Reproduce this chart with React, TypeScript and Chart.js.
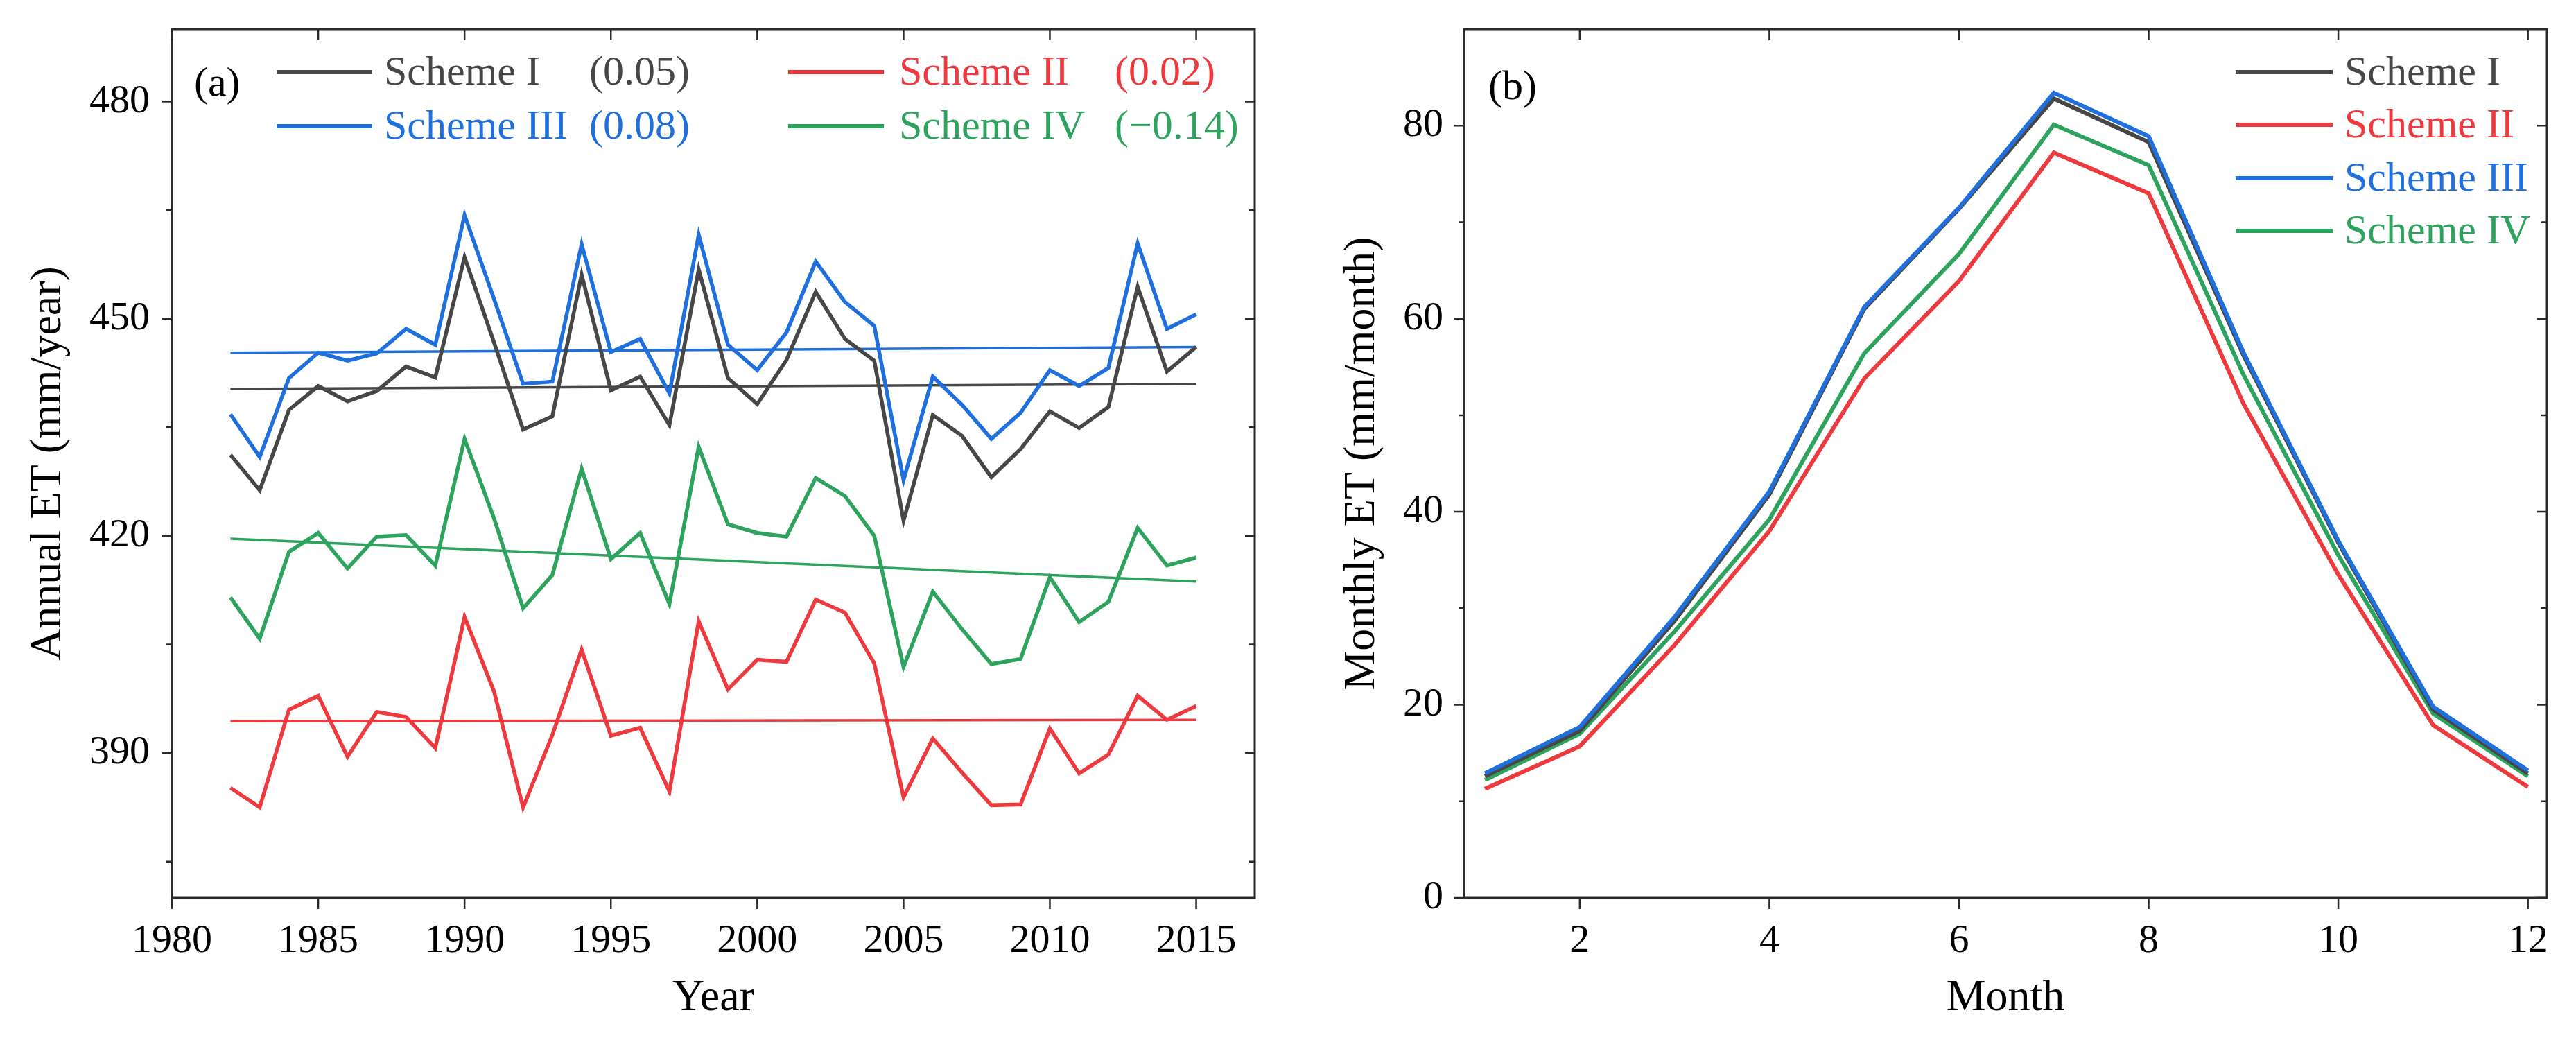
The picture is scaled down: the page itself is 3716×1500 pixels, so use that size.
import React, { useEffect, useRef } from "react";
import { Chart, registerables } from "chart.js";

Chart.register(...registerables);

// ---------------- DATA ----------------
const years = [
  1982, 1983, 1984, 1985, 1986, 1987, 1988, 1989, 1990, 1991, 1992, 1993, 1994, 1995, 1996, 1997, 1998,
  1999, 2000, 2001, 2002, 2003, 2004, 2005, 2006, 2007, 2008, 2009, 2010, 2011, 2012, 2013, 2014, 2015,
];
const annualSchemeI = [
  431.2, 426.3, 437.4, 440.7, 438.6, 440.0, 443.4, 441.9, 458.5, 446.8, 434.7, 436.5, 456.1, 440.1, 442.0,
  435.3, 456.8, 441.8, 438.2, 444.3, 453.7, 447.2, 444.2, 422.1, 436.7, 433.8, 428.1, 432.0, 437.2, 434.9,
  437.8, 454.4, 442.7, 446.1,
];
const annualSchemeII = [
  385.2, 382.5, 396.0, 397.9, 389.5, 395.7, 395.0, 390.7, 408.8, 398.6, 382.5, 392.5, 404.3, 392.4, 393.5,
  384.7, 408.2, 398.8, 402.9, 402.6, 411.2, 409.4, 402.4, 383.9, 392.0, 387.3, 382.8, 382.9, 393.4, 387.2,
  389.8, 397.9, 394.6, 396.5,
];
const annualSchemeIII = [
  436.8, 430.9, 441.8, 445.3, 444.2, 445.2, 448.6, 446.4, 464.3, 452.8, 441.0, 441.3, 460.3, 445.4, 447.2,
  439.7, 461.6, 446.4, 442.9, 448.1, 457.9, 452.3, 449.0, 427.7, 442.0, 438.1, 433.4, 437.0, 442.9, 440.7,
  443.2, 460.4, 448.6, 450.6,
];
const annualSchemeIV = [
  411.5, 405.8, 417.8, 420.4, 415.5, 419.9, 420.1, 415.9, 433.4, 422.5, 410.0, 414.6, 429.3, 416.8, 420.4,
  410.6, 432.3, 421.6, 420.4, 419.9, 428.0, 425.5, 420.0, 401.9, 412.3, 407.1, 402.3, 403.0, 414.3, 408.1,
  410.9, 421.1, 415.9, 417.0,
];
// linear trend lines (start year, end year) and their values
const trendYears = [1982, 2015];
const trendSchemeI = [440.3, 441.0];
const trendSchemeII = [394.4, 394.6];
const trendSchemeIII = [445.3, 446.1];
const trendSchemeIV = [419.6, 413.7];

const schemeNames = ["Scheme I", "Scheme II", "Scheme III", "Scheme IV"];
const schemeSlopes = ["(0.05)", "(0.02)", "(0.08)", "(\u22120.14)"];

const months = [1, 2, 3, 4, 5, 6, 7, 8, 9, 10, 11, 12];
const monthlySchemeI = [12.6, 17.3, 28.7, 41.8, 61.0, 71.4, 82.8, 78.3, 56.2, 36.8, 19.5, 12.9];
const monthlySchemeII = [11.3, 15.7, 26.2, 38.0, 53.8, 63.9, 77.2, 73.0, 51.2, 33.5, 17.9, 11.5];
const monthlySchemeIII = [12.9, 17.7, 29.1, 42.1, 61.2, 71.5, 83.4, 78.9, 56.5, 37.0, 19.8, 13.2];
const monthlySchemeIV = [12.2, 17.0, 27.6, 39.2, 56.4, 66.7, 80.1, 75.9, 54.2, 35.5, 19.1, 12.6];

const yearTicks = [1980, 1985, 1990, 1995, 2000, 2005, 2010, 2015];
const annualTicks = [390, 420, 450, 480];
const annualMinorTicks = [375, 405, 435, 465];
const monthTicks = [2, 4, 6, 8, 10, 12];
const monthlyTicks = [0, 20, 40, 60, 80];
const monthlyMinorTicks = [10, 30, 50, 70];

// ---------------- STYLE ----------------
const COLORS = ["#474747", "#ec3a3e", "#1f6fdc", "#2ea35e"];
const FONT = "'Liberation Serif', 'Times New Roman', serif";
const AXIS = "#2a2a2a";
const W = 1858;
const H = 1500;

Chart.defaults.font.family = FONT;

type FrameCfg = {
  xTicks: number[];
  yTicks: number[];
  yMinor: number[];
  panelLabel: string;
  labelX: number;
  labelY: number;
  legend: (ctx: CanvasRenderingContext2D) => void;
};

function makeFramePlugin(cfg: FrameCfg) {
  return {
    id: "frameTicks",
    afterDraw(chart: any) {
      const { ctx, chartArea } = chart;
      const { left, right, top, bottom } = chartArea;
      const xs = chart.scales.x;
      const ys = chart.scales.y;
      ctx.save();
      ctx.strokeStyle = AXIS;
      ctx.lineWidth = 3;
      ctx.strokeRect(left, top, right - left, bottom - top);
      ctx.lineWidth = 2.5;
      ctx.beginPath();
      for (const v of cfg.xTicks) {
        const px = xs.getPixelForValue(v);
        ctx.moveTo(px, bottom);
        ctx.lineTo(px, bottom + 16);
        ctx.moveTo(px, top);
        ctx.lineTo(px, top + 16);
      }
      for (const v of cfg.yTicks) {
        const py = ys.getPixelForValue(v);
        ctx.moveTo(left - 14, py);
        ctx.lineTo(left, py);
        ctx.moveTo(right, py);
        ctx.lineTo(right - 14, py);
      }
      for (const v of cfg.yMinor) {
        const py = ys.getPixelForValue(v);
        ctx.moveTo(left - 8, py);
        ctx.lineTo(left, py);
        ctx.moveTo(right, py);
        ctx.lineTo(right - 8, py);
      }
      ctx.stroke();

      ctx.fillStyle = "#000";
      ctx.font = `60px ${FONT}`;
      ctx.textBaseline = "middle";
      ctx.textAlign = "left";
      ctx.fillText(cfg.panelLabel, cfg.labelX, cfg.labelY);
      cfg.legend(ctx);
      ctx.restore();
    },
  };
}

function legendA(ctx: CanvasRenderingContext2D) {
  const lineX = [399, 1137];
  const nameX = [554, 1297];
  const slopeX = [850, 1608];
  const rowY = [104, 182];
  const pos = [
    [0, 0],
    [1, 0],
    [0, 1],
    [1, 1],
  ];
  ctx.font = `60px ${FONT}`;
  ctx.textBaseline = "middle";
  schemeNames.forEach((name, i) => {
    const [c, r] = pos[i];
    const y = rowY[r];
    ctx.strokeStyle = COLORS[i];
    ctx.lineWidth = 6;
    ctx.beginPath();
    ctx.moveTo(lineX[c], y);
    ctx.lineTo(lineX[c] + 138, y);
    ctx.stroke();
    ctx.fillStyle = COLORS[i];
    ctx.fillText(name, nameX[c], y + 2);
    ctx.fillText(schemeSlopes[i], slopeX[c], y + 2);
  });
}

function legendB(ctx: CanvasRenderingContext2D) {
  const lineX = 1367;
  const nameX = 1524;
  const rowY = [104, 180, 257, 333];
  ctx.font = `60px ${FONT}`;
  ctx.textBaseline = "middle";
  schemeNames.forEach((name, i) => {
    const y = rowY[i];
    ctx.strokeStyle = COLORS[i];
    ctx.lineWidth = 6;
    ctx.beginPath();
    ctx.moveTo(lineX, y);
    ctx.lineTo(lineX + 140, y);
    ctx.stroke();
    ctx.fillStyle = COLORS[i];
    ctx.fillText(name, nameX, y + 2);
  });
}

const toXY = (xs: number[], ys: number[]) => xs.map((x, i) => ({ x, y: ys[i] }));

function axisOptions(opts: {
  min: number;
  max: number;
  ticks: number[];
  title: string;
  isY: boolean;
  size: number;
  titlePad: any;
  tickPad: number;
}) {
  return {
    type: "linear",
    min: opts.min,
    max: opts.max,
    grid: { display: false, drawTicks: false },
    border: { display: false },
    afterBuildTicks: (s: any) => {
      s.ticks = opts.ticks.map((v) => ({ value: v }));
    },
    afterFit: (s: any) => {
      if (opts.isY) s.width = opts.size;
      else s.height = opts.size;
      s.paddingTop = 0;
      s.paddingBottom = 0;
      s.paddingLeft = 0;
      s.paddingRight = 0;
    },
    ticks: {
      color: "#000",
      font: { size: 58, family: FONT },
      padding: opts.tickPad,
      autoSkip: false,
      maxRotation: 0,
      callback: (v: any) => String(v),
    },
    title: {
      display: true,
      text: opts.title,
      color: "#000",
      font: { size: 64, family: FONT },
      padding: opts.titlePad,
    },
  };
}

function AnnualChart() {
  const ref = useRef<HTMLCanvasElement | null>(null);
  useEffect(() => {
    if (!ref.current) return;
    const series = [annualSchemeI, annualSchemeII, annualSchemeIII, annualSchemeIV];
    const trends = [trendSchemeI, trendSchemeII, trendSchemeIII, trendSchemeIV];
    const drawOrder = [2, 0, 3, 1];
    const datasets: any[] = [];
    drawOrder.forEach((i) => {
      datasets.push({
        label: schemeNames[i],
        data: toXY(years, series[i]),
        borderColor: COLORS[i],
        borderWidth: 5.5,
        pointRadius: 0,
        tension: 0,
        fill: false,
      });
    });
    drawOrder.forEach((i) => {
      datasets.push({
        label: schemeNames[i] + " trend",
        data: toXY(trendYears, trends[i]),
        borderColor: COLORS[i],
        borderWidth: 3.5,
        pointRadius: 0,
        tension: 0,
        fill: false,
      });
    });
    const chart = new Chart(ref.current, {
      type: "line",
      data: { datasets },
      options: {
        responsive: false,
        animation: false,
        devicePixelRatio: 1,
        layout: { padding: { top: 42, right: 48, left: 0, bottom: 0 } },
        plugins: { legend: { display: false }, tooltip: { enabled: false } },
        scales: {
          x: axisOptions({
            min: 1980,
            max: 2017,
            ticks: yearTicks,
            title: "Year",
            isY: false,
            size: 205,
            titlePad: { top: 0, bottom: 21 },
            tickPad: 28,
          }),
          y: axisOptions({
            min: 370,
            max: 490,
            ticks: annualTicks,
            title: "Annual ET (mm/year)",
            isY: true,
            size: 248,
            titlePad: { top: 32, bottom: 0 },
            tickPad: 32,
          }),
        },
      } as any,
      plugins: [
        makeFramePlugin({
          xTicks: yearTicks,
          yTicks: annualTicks,
          yMinor: annualMinorTicks,
          panelLabel: "(a)",
          labelX: 280,
          labelY: 122,
          legend: legendA,
        }),
      ],
    });
    return () => chart.destroy();
  }, []);
  return (
    <canvas
      ref={ref}
      width={W}
      height={H}
      style={{ position: "absolute", left: 0, top: 0, width: W, height: H }}
    />
  );
}

function MonthlyChart() {
  const ref = useRef<HTMLCanvasElement | null>(null);
  useEffect(() => {
    if (!ref.current) return;
    const series = [monthlySchemeI, monthlySchemeII, monthlySchemeIII, monthlySchemeIV];
    const drawOrder = [2, 0, 3, 1];
    const datasets = drawOrder.map((i) => ({
      label: schemeNames[i],
      data: toXY(months, series[i]),
      borderColor: COLORS[i],
      borderWidth: 6,
      pointRadius: 0,
      tension: 0,
      fill: false,
    }));
    const chart = new Chart(ref.current, {
      type: "line",
      data: { datasets },
      options: {
        responsive: false,
        animation: false,
        devicePixelRatio: 1,
        layout: { padding: { top: 42, right: 42, left: 0, bottom: 0 } },
        plugins: { legend: { display: false }, tooltip: { enabled: false } },
        scales: {
          x: axisOptions({
            min: 0.78,
            max: 12.2,
            ticks: monthTicks,
            title: "Month",
            isY: false,
            size: 205,
            titlePad: { top: 0, bottom: 21 },
            tickPad: 28,
          }),
          y: axisOptions({
            min: 0,
            max: 90,
            ticks: monthlyTicks,
            title: "Monthly ET (mm/month)",
            isY: true,
            size: 254,
            titlePad: { top: 69, bottom: 0 },
            tickPad: 30,
          }),
        },
      } as any,
      plugins: [
        makeFramePlugin({
          xTicks: monthTicks,
          yTicks: monthlyTicks,
          yMinor: monthlyMinorTicks,
          panelLabel: "(b)",
          labelX: 289,
          labelY: 127,
          legend: legendB,
        }),
      ],
    });
    return () => chart.destroy();
  }, []);
  return (
    <canvas
      ref={ref}
      width={W}
      height={H}
      style={{ position: "absolute", left: W, top: 0, width: W, height: H }}
    />
  );
}

export default function App() {
  return (
    <div
      style={{
        position: "absolute",
        left: 0,
        top: 0,
        width: 3716,
        height: 1500,
        background: "#fff",
        overflow: "hidden",
      }}
    >
      <AnnualChart />
      <MonthlyChart />
    </div>
  );
}
